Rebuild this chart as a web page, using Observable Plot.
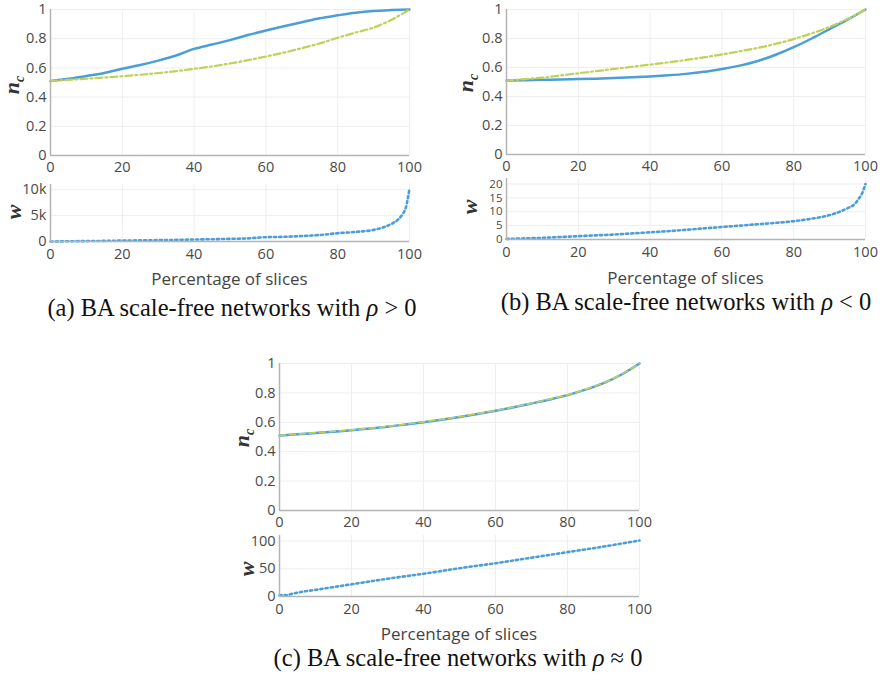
<!DOCTYPE html>
<html>
<head>
<meta charset="utf-8">
<script src="https://cdn.jsdelivr.net/npm/d3@7"></script>
<script src="https://cdn.jsdelivr.net/npm/@observablehq/plot@0.6"></script>
<style>
  body { margin: 0; background: white; }
  #root { position: relative; width: 882px; height: 681px; background: white; overflow: hidden; }
  .slot { position: absolute; }
  .slot svg { background: transparent !important; overflow: visible; }
  .xlab { position: absolute; font-family: "Open Sans", sans-serif; font-size: 17px; color: #444; transform: translate(-50%, -50%); white-space: nowrap; }
  .cap { position: absolute; font-family: "Liberation Serif", "Times New Roman", serif; font-size: 24.5px; color: #111; transform: translate(-50%, -50%); white-space: nowrap; }
  .ylab { position: absolute; font-family: "Liberation Serif", serif; font-style: italic; font-weight: bold; font-size: 22px; line-height: 1; color: #333; transform: translate(-50%, -50%) rotate(-90deg); white-space: nowrap; }
  .ylab sub { font-size: 14px; }
</style>
</head>
<body>
<div id="root"></div>
<script>
// ---------- data ----------
const pct = [0,5,10,15,20,25,30,35,40,45,50,55,60,65,70,75,80,85,90,95,100];

// (a) rho > 0
const aNcBlue  = [0.51,0.525,0.545,0.565,0.594,0.62,0.65,0.685,0.73,0.76,0.79,0.825,0.856,0.885,0.913,0.94,0.96,0.978,0.99,0.996,1.0];
const aNcGreen = [0.51,0.518,0.526,0.534,0.543,0.553,0.565,0.578,0.594,0.61,0.63,0.653,0.678,0.705,0.735,0.768,0.806,0.842,0.876,0.93,1.0];
const aWPct = [0,5,10,15,20,25,30,35,40,45,50,55,60,65,70,75,80,85,90,93,95,97,98,99,100];
const aW    = [0,40,80,120,180,220,260,310,380,440,510,600,830,900,1050,1250,1600,1850,2240,2800,3400,4360,5200,6600,10200];

// (b) rho < 0
const bNcBlue  = [0.51,0.512,0.515,0.517,0.52,0.523,0.527,0.532,0.538,0.546,0.556,0.57,0.59,0.613,0.645,0.688,0.74,0.80,0.865,0.93,1.0];
const bNcGreen = [0.51,0.52,0.53,0.545,0.56,0.575,0.59,0.605,0.62,0.635,0.652,0.67,0.69,0.712,0.735,0.763,0.796,0.835,0.88,0.935,1.0];
const bWPct = [0,5,10,15,20,25,30,35,40,45,50,55,60,65,70,75,80,85,90,95,97,98,99,100];
const bW    = [0.2,0.4,0.6,0.9,1.2,1.5,1.8,2.2,2.6,3.0,3.5,4.0,4.5,5.0,5.5,6.0,6.6,7.5,8.8,11.3,12.8,14.5,16.5,20];

// (c) rho ~ 0
const cNcBlue  = [0.51,0.518,0.527,0.536,0.546,0.558,0.57,0.585,0.601,0.618,0.636,0.656,0.678,0.702,0.728,0.755,0.785,0.822,0.866,0.925,1.0];
const cNcGreen = [0.512,0.52,0.529,0.538,0.548,0.56,0.572,0.587,0.603,0.62,0.638,0.658,0.68,0.704,0.73,0.757,0.787,0.824,0.868,0.927,1.0];
const cWPct = [0,1,2,3,5,10,20,30,40,50,60,70,80,90,100];
const cW    = [2,3,2,4,7,12,22,32,41,51,60,70,80,90,101];

const ncTicks = [0,0.2,0.4,0.6,0.8,1];
const xTicks = [0,20,40,60,80,100];

const BLUE = "#4c9ed9", GREEN = "#bfd257", AXIS = "#b4b4b4", GRID = "#eeeeee", TICK = "#4a4a4a";

const root = document.getElementById("root");

function rows(xs, ys) { return xs.map((x, i) => ({x, y: ys[i]})); }

function place(node, left, top) {
  const d = document.createElement("div");
  d.className = "slot";
  d.style.left = left + "px";
  d.style.top = top + "px";
  d.appendChild(node);
  root.appendChild(d);
}

function panel({left, top, width, height, ml, mr, mt, mb, yDomain, yTicks, yFmt, lines, xPad, yFont}) {
  const p = Plot.plot({
    width, height,
    marginLeft: ml, marginRight: mr, marginTop: mt, marginBottom: mb,
    style: {fontFamily: "Open Sans, sans-serif", fontSize: "14.5px", color: TICK, background: "transparent", overflow: "visible"},
    x: {domain: [0, 100]},
    y: {domain: yDomain},
    marks: [
      Plot.gridX(xTicks, {stroke: GRID, strokeOpacity: 1}),
      Plot.gridY(yTicks, {stroke: GRID, strokeOpacity: 1}),
      Plot.axisX({ticks: xTicks, tickSize: 0, tickPadding: xPad, label: null, fill: TICK}),
      Plot.axisY({ticks: yTicks, tickSize: 0, tickPadding: 4, tickFormat: yFmt, label: null, fill: TICK, fontSize: yFont || 14.5}),
      ...lines,
      Plot.ruleX([0], {stroke: AXIS, strokeWidth: 1.5}),
      Plot.ruleY([0], {stroke: AXIS, strokeWidth: 1.5})
    ]
  });
  place(p, left, top);
}

function ncLines(blue, green, solidGreen) {
  return [
    Plot.line(rows(pct, blue), {x: "x", y: "y", stroke: BLUE, strokeWidth: 2.5, curve: "monotone-x"}),
    Plot.line(rows(pct, green), {x: "x", y: "y", stroke: GREEN, strokeWidth: solidGreen ? 1.6 : 2.2,
      strokeDasharray: solidGreen ? "6,4" : "7,3,2,3", curve: "monotone-x"})
  ];
}
function wLine(xs, ys) {
  return [Plot.line(rows(xs, ys), {x: "x", y: "y", stroke: BLUE, strokeWidth: 2.6, strokeDasharray: "2.2,3", curve: "monotone-x"})];
}

const fmtNc = d => d === 0 ? "0" : d === 1 ? "1" : String(d);

// (a)
panel({left: 0, top: 0, width: 430, height: 180, ml: 50, mr: 21, mt: 9, mb: 25,
  yDomain: [0, 1], yTicks: ncTicks, yFmt: fmtNc, lines: ncLines(aNcBlue, aNcGreen), xPad: 6});
panel({left: 0, top: 175, width: 430, height: 95, ml: 50, mr: 21, mt: 9, mb: 29,
  yDomain: [0, 11000], yTicks: [0, 5000, 10000], yFmt: d => d === 0 ? "0" : (d / 1000) + "k", lines: wLine(aWPct, aW), xPad: 7});

// (b)
panel({left: 450, top: 0, width: 432, height: 180, ml: 56, mr: 17, mt: 9, mb: 26,
  yDomain: [0, 1], yTicks: ncTicks, yFmt: fmtNc, lines: ncLines(bNcBlue, bNcGreen), xPad: 6});
panel({left: 450, top: 170, width: 432, height: 95, ml: 56, mr: 17, mt: 8, mb: 26,
  yDomain: [0, 22], yTicks: [0, 5, 10, 15, 20], yFmt: d => String(d), lines: wLine(bWPct, bW), xPad: 7, yFont: 11.5});

// (c)
panel({left: 230, top: 350, width: 420, height: 185, ml: 49, mr: 11, mt: 13, mb: 25,
  yDomain: [0, 1], yTicks: ncTicks, yFmt: fmtNc, lines: ncLines(cNcBlue, cNcGreen, true), xPad: 6});
panel({left: 230, top: 527, width: 420, height: 95, ml: 49, mr: 11, mt: 8, mb: 26,
  yDomain: [0, 110], yTicks: [0, 50, 100], yFmt: d => String(d), lines: wLine(cWPct, cW), xPad: 7});

// ---------- labels ----------
function label(cls, html, x, y) {
  const d = document.createElement("div");
  d.className = cls;
  d.innerHTML = html;
  d.style.left = x + "px";
  d.style.top = y + "px";
  root.appendChild(d);
}
const xTitle = "Percentage of slices";
label("xlab", xTitle, 229.5, 278);
label("xlab", xTitle, 685.5, 277);
label("xlab", xTitle, 459, 633);

label("ylab", "n<sub>c</sub>", 14, 85);
label("ylab", "w", 14, 212);
label("ylab", "n<sub>c</sub>", 468, 83);
label("ylab", "w", 470, 207);
label("ylab", "n<sub>c</sub>", 244, 438);
label("ylab", "w", 247, 569);

label("cap", "(a) BA scale-free networks with <i>ρ</i> &gt; 0", 232, 308);
label("cap", "(b) BA scale-free networks with <i>ρ</i> &lt; 0", 686, 302);
label("cap", "(c) BA scale-free networks with <i>ρ</i> ≈ 0", 458, 658);
</script>
</body>
</html>
